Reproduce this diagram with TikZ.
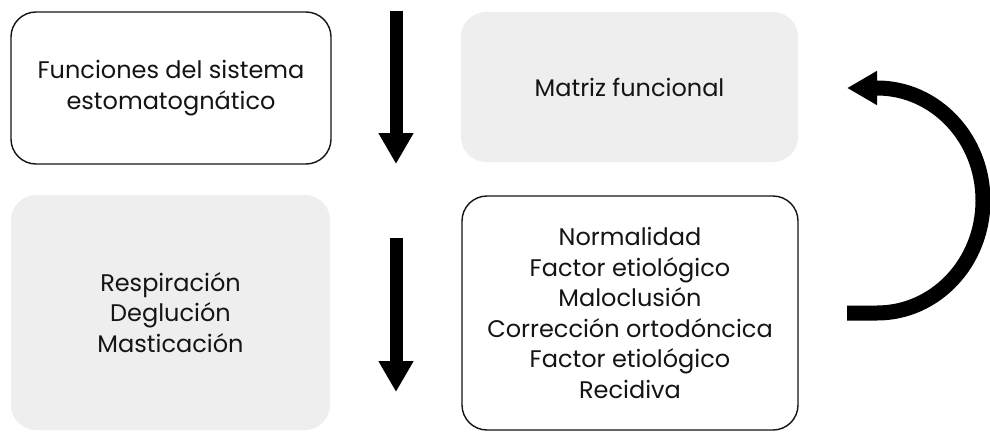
\documentclass[tikz,border=0pt]{standalone}
\usepackage{fontspec}
\setmainfont{Poppins}
\usepackage{tikz}
\usetikzlibrary{arrows.meta,positioning,calc}
\definecolor{CycleInk}{RGB}{20, 20, 20}
\definecolor{CycleGrey}{RGB}{238, 238, 238}

\begin{document}
\begin{tikzpicture}[x=1pt, y=1pt]
  \tikzstyle{block} = [rectangle, draw=CycleInk, line width=1.4pt, fill=white, text=CycleInk, rounded corners=25pt, font=\fontsize{24}{30.5}\selectfont, align=center, inner sep=0pt]
  \tikzstyle{greybox} = [rectangle, fill=CycleGrey, text=CycleInk, rounded corners=25pt, font=\fontsize{24}{30.5}\selectfont, align=center, inner sep=0pt]
  \tikzstyle{line} = [draw=black, line width=13pt, -{Triangle[length=31pt, width=33pt]}]
  \tikzstyle{loopline} = [draw=black, line width=15pt, -{Triangle[length=30pt, width=32pt]}]

  \useasboundingbox (0,0) rectangle (990,432);

  \node [block, minimum width=320pt, minimum height=152pt] (funciones) at (171,344) {Funciones del sistema\\estomatognático};
  \node [greybox, minimum width=337pt, minimum height=150pt] (matriz) at (629.5,345) {Matriz funcional};
  \node [greybox, minimum width=319pt, minimum height=235pt] (respiracion) at (170.5,119.5) {Respiración\\Deglución\\Masticación};
  \node [block, minimum width=336pt, minimum height=234pt] (normalidad) at (630,119) {Normalidad\\Factor etiológico\\Maloclusión\\Corrección ortodóncica\\Factor etiológico\\Recidiva};

  % free ends of the arrows
  \coordinate (downA) at (396,421);
  \coordinate (downAend) at (396,268);
  \coordinate (downB) at (396,194);
  \coordinate (downBend) at (396,40);
  \coordinate (loopstart) at (847,119);

  \path [line] (downA) -- (downAend);
  \path [line] (downB) -- (downBend);
  \path [loopline] (loopstart) -- ++(30,0) arc [start angle=-90, end angle=90, x radius=106, y radius=112.5] -- ++(-30,0);
\end{tikzpicture}
\end{document}
